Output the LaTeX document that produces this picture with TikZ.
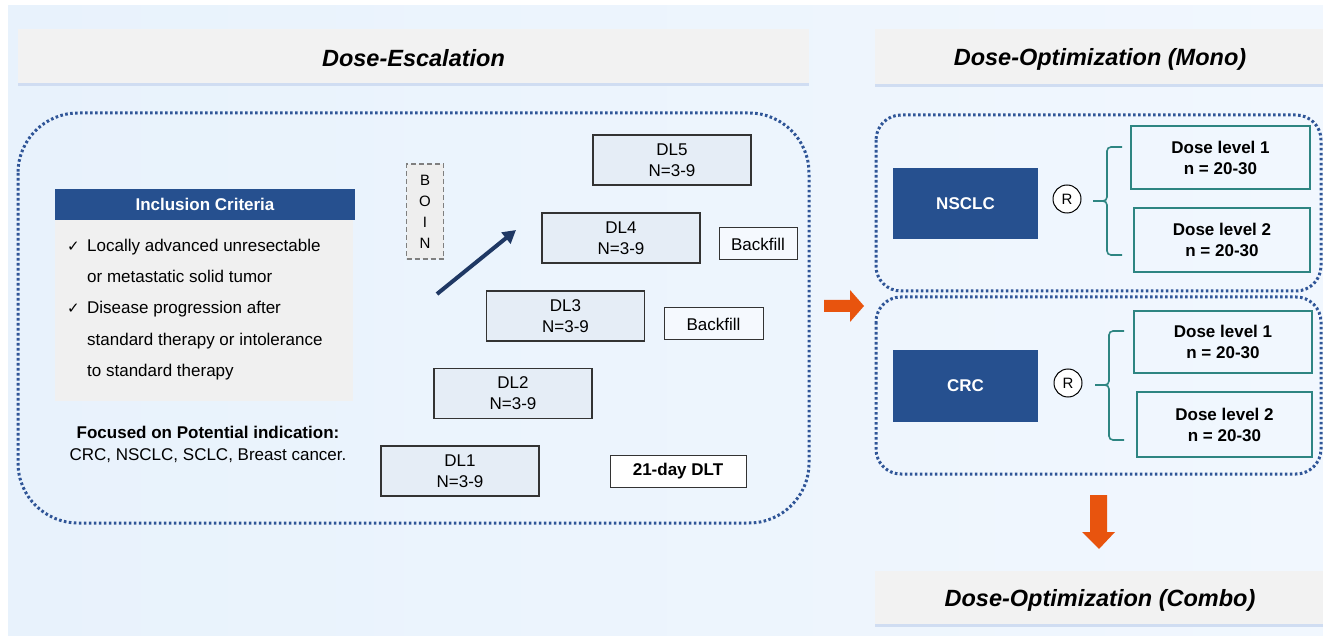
\documentclass[tikz,border=0pt]{standalone}
\usepackage{fontspec}
\setmainfont{Liberation Sans}
\newfontfamily\symfont{DejaVu Sans}
\usetikzlibrary{shadows,arrows.meta}
\definecolor{bgL}{HTML}{E8F2FC}
\definecolor{bgR}{HTML}{F1F7FE}
\definecolor{hdrgray}{HTML}{F2F2F2}
\definecolor{shadowblue}{HTML}{D0DDF2}
\definecolor{dotblue}{HTML}{2F5597}
\definecolor{navyfill}{HTML}{26508F}
\definecolor{tealline}{HTML}{2E8582}
\definecolor{orangeA}{HTML}{E8540E}
\definecolor{dlfill}{HTML}{E5EDF6}
\definecolor{dlline}{HTML}{333333}
\definecolor{greybody}{HTML}{F0F0F0}
\definecolor{arrownavy}{HTML}{1F3864}
\definecolor{boinfill}{HTML}{EEEEEE}
\definecolor{boinline}{HTML}{7F7F7F}
\definecolor{bffill}{HTML}{F5F9FE}
\newcommand{\lowertxt}[1]{\raisebox{-2.5pt}[\height][\depth]{#1}}
\begin{document}
\begin{tikzpicture}[x=1pt,y=-1pt,
  hdr/.style={fill=hdrgray, inner sep=0pt, font=\fontsize{23.5}{28}\selectfont\bfseries\itshape,
    general shadow={fill=shadowblue, shadow yshift=-3pt}},
  dotbox/.style={draw=dotblue, line width=3pt, dash pattern=on 2.6pt off 2.4pt},
  dlbox/.style={draw=dlline, fill=dlfill, line width=1.1pt, minimum width=158pt, minimum height=50pt,
    inner sep=0pt, align=center, font=\fontsize{17}{21}\selectfont},
  bfbox/.style={draw=dlline, fill=bffill, line width=1pt, minimum height=32pt, inner sep=0pt,
    font=\fontsize{17}{21}\selectfont},
  bluebox/.style={fill=navyfill, text=white, inner sep=0pt, font=\fontsize{17}{21}\selectfont\bfseries},
  randc/.style={circle, draw=black, line width=1pt, fill=white, minimum size=28pt, inner sep=0pt,
    font=\fontsize{15}{15}\selectfont},
  dosebox/.style={draw=tealline, line width=2pt, inner sep=0pt, align=center,
    font=\fontsize{17}{21}\selectfont\bfseries},
  bracepath/.style={draw=tealline, line width=1.6pt, rounded corners=4pt},
  orangearrow/.style={fill=orangeA}
]
\useasboundingbox (0,0) rectangle (1323,636);
\fill[white] (0,0) rectangle (1323,636);
\shade[left color=bgL, right color=bgR] (8,6) rectangle (1323,636);

% headers
\node[hdr, minimum width=791pt, minimum height=54pt] (h1) at (413.5,56) {\lowertxt{Dose-Escalation}};
\node[hdr, minimum width=450pt, minimum height=55pt] (h2) at (1100,56.5) {\lowertxt{Dose-Optimization (Mono)}};
\node[hdr, minimum width=450pt, minimum height=53pt] (h3) at (1100,597.5) {\lowertxt{Dose-Optimization (Combo)}};

% dotted containers
\draw[dotbox, rounded corners=60pt] (18,113) rectangle (809,523);
\draw[dotbox, rounded corners=25pt] (876,115) rectangle (1321,291);
\draw[dotbox, rounded corners=25pt] (876,297) rectangle (1321,474);

% inclusion criteria
\node[bluebox, minimum width=300pt, minimum height=31pt] (inch) at (205,204.5) {Inclusion Criteria};
\fill[greybody] (55,220) rectangle (353,401);
\node[anchor=base west, inner sep=0pt, align=left, font=\fontsize{17}{31.5}\selectfont] (inct) at (67,377)
 {\makebox[20pt][l]{\symfont\fontsize{15}{15}\selectfont ✓}Locally advanced unresectable\\
  \hspace*{20pt}or metastatic solid tumor\\
  \makebox[20pt][l]{\symfont\fontsize{15}{15}\selectfont ✓}Disease progression after\\
  \hspace*{20pt}standard therapy or intolerance\\
  \hspace*{20pt}to standard therapy};
\node[anchor=base, inner sep=0pt, align=center, font=\fontsize{17}{22}\selectfont] (focus) at (208,460)
 {\textbf{Focused on Potential indication:}\\CRC, NSCLC, SCLC, Breast cancer.};

% BOIN
\node[draw=boinline, fill=boinfill, dash pattern=on 5pt off 3pt, line width=1.4pt, minimum width=37pt, minimum height=95pt,
  inner sep=0pt, align=center, font=\fontsize{15}{21}\selectfont] (boin) at (425,211.5) {B\\O\\I\\N};

% escalation arrow
\coordinate (a0) at (437,294);
\coordinate (a1) at (516,230);
\draw[arrownavy, line width=4pt, -{Triangle[length=13pt,width=14pt]}] (a0) -- (a1);

% dose levels
\node[dlbox] (dl5) at (672,160) {DL5\\N=3-9};
\node[dlbox] (dl4) at (621,238) {DL4\\N=3-9};
\node[dlbox] (dl3) at (565.5,316) {DL3\\N=3-9};
\node[dlbox] (dl2) at (513,393.5) {DL2\\N=3-9};
\node[dlbox] (dl1) at (460,471) {DL1\\N=3-9};
\node[bfbox, minimum width=78pt] (bf1) at (758,244) {Backfill};
\node[bfbox, minimum width=99pt] (bf2) at (713.5,324) {Backfill};
\node[bfbox, fill=white, minimum width=136pt, font=\fontsize{17}{21}\selectfont\bfseries] (dlt) at (678,471) {21-day DLT};

% orange arrows
\fill[orangearrow] (824,300) -- (850,300) -- (850,290) -- (864,306) -- (850,322) -- (850,312) -- (824,312) -- cycle;
\fill[orangearrow] (1090,495) -- (1107,495) -- (1107,532) -- (1115,532) -- (1099,549) -- (1082,532) -- (1090,532) -- cycle;

% NSCLC group
\node[bluebox, minimum width=145pt, minimum height=71pt] (nsclc) at (965.5,203.5) {NSCLC};
\node[randc] (r1) at (1067,199) {R};
\draw[bracepath] (1122,147) -- (1107,147) -- (1107,201) -- (1093,201);
\draw[bracepath] (1093,201) -- (1107,201) -- (1107,255) -- (1122,255);
\node[dosebox, minimum width=179pt, minimum height=63pt] (d11) at (1220.5,157.5) {Dose level 1\\n = 20-30};
\node[dosebox, minimum width=176pt, minimum height=64pt] (d12) at (1222,240) {Dose level 2\\n = 20-30};

% CRC group
\node[bluebox, minimum width=145pt, minimum height=72pt] (crc) at (965.5,386) {CRC};
\node[randc] (r2) at (1068,383) {R};
\draw[bracepath] (1124,331) -- (1109,331) -- (1109,385) -- (1095,385);
\draw[bracepath] (1095,385) -- (1109,385) -- (1109,440) -- (1124,440);
\node[dosebox, minimum width=178pt, minimum height=62pt] (d21) at (1223,342) {Dose level 1\\n = 20-30};
\node[dosebox, minimum width=175pt, minimum height=65pt] (d22) at (1224.5,424.5) {Dose level 2\\n = 20-30};
\end{tikzpicture}
\end{document}
